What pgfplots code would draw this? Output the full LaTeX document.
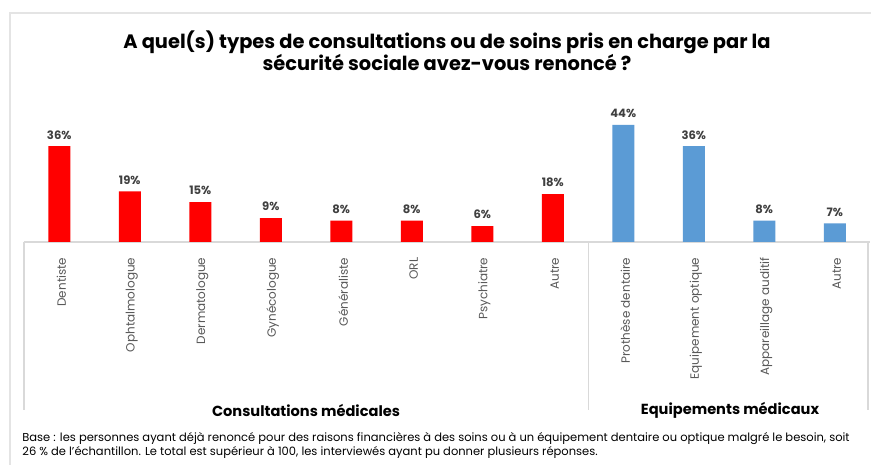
\documentclass[border=0pt]{standalone}
\usepackage{pgfplots}
\pgfplotsset{compat=1.18}
\usepackage{fontspec}
\setmainfont{Poppins}
\definecolor{barred}{HTML}{FF0000}
\definecolor{barblue}{HTML}{5B9BD5}
\definecolor{lbl}{HTML}{404040}
\definecolor{tick}{HTML}{595959}
\definecolor{grid}{HTML}{D9D9D9}
\begin{document}
\begin{tikzpicture}[x=0.5pt,y=0.5pt]
\path[use as bounding box] (0,0) rectangle (871,465);
\fill[white] (0,0) rectangle (871,465);
\draw[grid!70, line width=0.6pt] (10,0) -- (10,452) -- (871,452);
\begin{axis}[
  at={(12pt,111.5pt)}, anchor=south west,
  scale only axis, width=423pt, height=66.5pt,
  xmin=-0.5, xmax=11.5, ymin=0, ymax=50,
  axis y line=none, axis x line*=bottom,
  x axis line style={draw=grid, line width=0.6pt, -},
  xtick={0,1,2,3,4,5,6,7,8,9,10,11}, xtick style={draw=none},
  xticklabels={Dentiste,Ophtalmologue,Dermatologue,Gynécologue,Généraliste,ORL,Psychiatre,Autre,Prothèse dentaire,Equipement optique,Appareillage auditif,Autre},
  xticklabel style={rotate=90, anchor=east, font=\fontsize{6.0}{7}\selectfont, text=tick, yshift=-1pt},
  ybar, bar width=11pt, bar shift=0pt,
  /pgf/number format/assume math mode=true,
  nodes near coords={\pgfmathprintnumber{\pgfplotspointmeta}\%},
  nodes near coords style={font=\bfseries\fontsize{5.8}{6}\selectfont, text=lbl},
  clip=false,
]
\addplot[fill=barred, draw=none] coordinates {(0,36) (1,19) (2,15) (3,9) (4,8) (5,8) (6,6) (7,18)};
\addplot[fill=barblue, draw=none] coordinates {(8,44) (9,36) (10,8) (11,7)};
\end{axis}
\draw[grid, line width=0.6pt] (24,223) -- (24,55);
\draw[grid, line width=0.6pt] (588.5,223) -- (588.5,55);
\draw[grid, line width=0.6pt] (868,223) -- (868,55);
\node[font=\bfseries\fontsize{9.7}{11}\selectfont, align=center] at (447,414) {A quel(s) types de consultations ou de soins pris en charge par la\\sécurité sociale avez-vous renoncé ?};
\node[font=\bfseries\fontsize{7.3}{8}\selectfont] at (306,55) {Consultations médicales};
\node[font=\bfseries\fontsize{7.3}{8}\selectfont] at (730,55) {Equipements médicaux};
\node[font=\fontsize{5.75}{7.2}\selectfont, align=left, anchor=north west, inner sep=0pt] at (22,33) {Base : les personnes ayant déjà renoncé pour des raisons financières à des soins ou à un équipement dentaire ou optique malgré le besoin, soit\\26 \% de l'échantillon. Le total est supérieur à 100, les interviewés ayant pu donner plusieurs réponses.};
\end{tikzpicture}
\end{document}
